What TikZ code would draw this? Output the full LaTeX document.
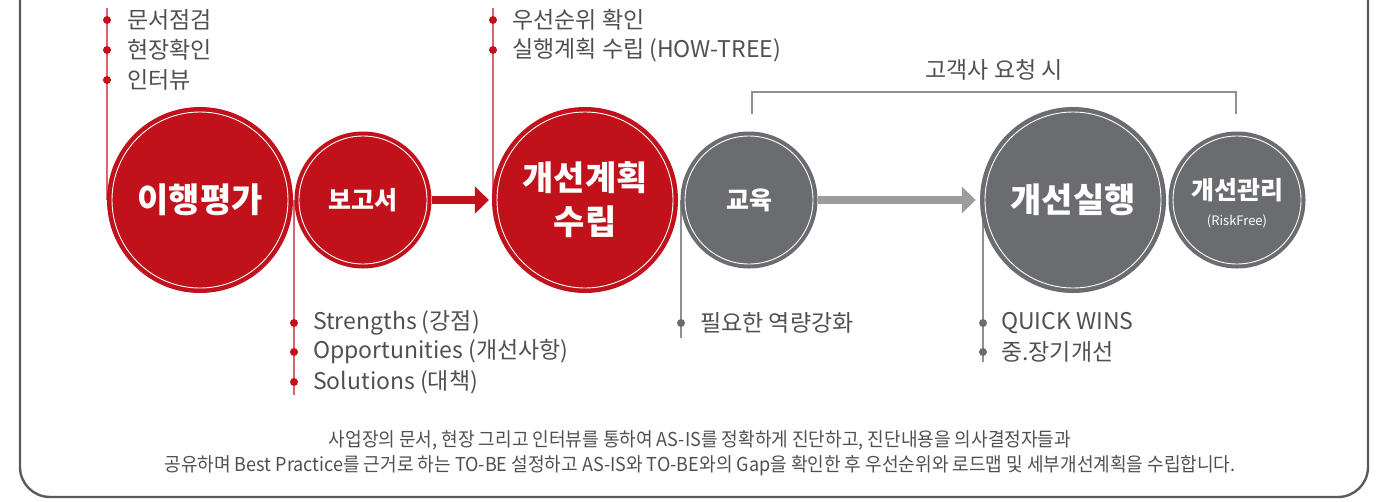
\documentclass[tikz,border=0pt]{standalone}
\usepackage{fontspec}
\setmainfont{Noto Sans CJK KR}
\newfontfamily\krc[FakeStretch=0.94]{Noto Sans CJK KR}
\usetikzlibrary{arrows.meta}
\definecolor{cred}{HTML}{C1121C}
\definecolor{cgray}{HTML}{6B6C70}
\definecolor{agray}{HTML}{9C9C9E}
\definecolor{tgray}{HTML}{505050}
\definecolor{lred}{HTML}{D8656E}
\definecolor{lgray}{HTML}{909090}
\definecolor{fgray}{HTML}{5A5A5A}
\tikzset{
  bigc/.style={circle, inner sep=0pt, minimum size=186pt, text=white, align=center,
     font=\fontsize{34}{44}\selectfont\bfseries},
  smallc/.style={circle, inner sep=0pt, minimum size=137pt, text=white, align=center,
     font=\fontsize{25}{29}\selectfont\bfseries},
  ring/.style={white, line width=0.9pt},
  item/.style={anchor=west, text=tgray, inner sep=0pt, font=\fontsize{23}{27}\selectfont},
  rdot/.style={circle, fill=cred, inner sep=0pt, minimum size=8pt},
  gdot/.style={circle, fill=cgray, inner sep=0pt, minimum size=8pt},
  rline/.style={lred, line width=1.6pt},
  gline/.style={lgray, line width=1.6pt},
  note/.style={text=tgray, inner sep=0pt, font=\krc\fontsize{19.2}{22}\selectfont},
}
\begin{document}
\begin{tikzpicture}[x=1pt,y=-1pt]
\useasboundingbox (0,0) rectangle (1388,501);
% frame
\draw[fgray, line width=2.4pt, rounded corners=30pt] (20,-40) -- (20,497) -- (1368,497) -- (1368,-40);

% coordinates for line ends
\coordinate (t1) at (107,8);
\coordinate (t2) at (493,8);
\coordinate (b1) at (294,395);
\coordinate (b2) at (681,338);
\coordinate (b3) at (983,362);

% vertical lines (behind circles)
\draw[rline] (t1) -- (107,200);
\draw[rline] (t2) -- (493,200);
\draw[rline] (294,200) -- (b1);
\draw[gline] (681,200) -- (b2);
\draw[gline] (983,200) -- (b3);

% circles
\node[bigc, fill=cred] (eval) at (200,200) {이행평가};
\node[smallc, fill=cred] (report) at (363,200) {보고서};
\node[bigc, fill=cred] (plan) at (585,200) {개선계획\\수립};
\node[smallc, fill=cgray] (edu) at (749,200) {교육};
\node[bigc, fill=cgray] (exec) at (1073,200) {개선실행};
\node[smallc, fill=cgray] (mgmt) at (1237,200) {};
\node[text=white, align=center, inner sep=0pt, font=\fontsize{25}{29}\selectfont\bfseries] (mgmtlabel) at (1237,203)
  {개선관리\\[-3pt]{\fontsize{13}{15}\selectfont\mdseries (RiskFree)}};

\draw[ring] (eval.center) circle[radius=88pt];
\draw[ring] (report.center) circle[radius=64pt];
\draw[ring] (plan.center) circle[radius=88pt];
\draw[ring] (edu.center) circle[radius=64pt];
\draw[ring] (exec.center) circle[radius=88pt];
\draw[ring] (mgmt.center) circle[radius=64pt];

% arrows
\draw[cred, line width=8pt, -{Triangle[length=14pt,width=27pt]}, shorten >=3pt] (report.east) -- (plan.west);
\draw[agray, line width=8pt, -{Triangle[length=14pt,width=26pt]}, shorten >=4pt] (edu.east) -- (exec.west);

% bracket
\coordinate (bl) at (752,114);
\coordinate (br) at (1236,114);
\draw[lgray, line width=1.4pt] (bl) -- (752,92) -- (1236,92) -- (br);
\node[item, anchor=center] (req) at (994,70) {고객사 요청 시};

% top-left list
\node[rdot] (d1) at (107,20) {};
\node[rdot] (d2) at (107,50) {};
\node[rdot] (d3) at (107,80) {};
\node[item] (l1) at (127,20) {문서점검};
\node[item] (l2) at (127,50) {현장확인};
\node[item] (l3) at (127,80) {인터뷰};

% top-middle list
\node[rdot] (d4) at (493,20) {};
\node[rdot] (d5) at (493,50) {};
\node[item] (l4) at (512,20) {우선순위 확인};
\node[item] (l5) at (512,50) {실행계획 수립 (HOW-TREE)};

% bottom lists
\node[rdot] (d6) at (294,323) {};
\node[rdot] (d7) at (294,352) {};
\node[rdot] (d8) at (294,382) {};
\node[item] (l6) at (313,323) {Strengths (강점)};
\node[item] (l7) at (313,352) {Opportunities (개선사항)};
\node[item] (l8) at (313,382) {Solutions (대책)};

\node[gdot] (d9) at (681,323) {};
\node[item] (l9) at (700,323) {필요한 역량강화};

\node[gdot] (d10) at (983,323) {};
\node[gdot] (d11) at (983,352) {};
\node[item] (l10) at (1001,323) {QUICK WINS};
\node[item] (l11) at (1001,352) {중.장기개선};

% description
\node[note] (n1) at (700,440) {사업장의 문서, 현장 그리고 인터뷰를 통하여 AS-IS를 정확하게 진단하고, 진단내용을 의사결정자들과};
\node[note] (n2) at (700,466) {공유하며 Best Practice를 근거로 하는 TO-BE 설정하고 AS-IS와 TO-BE와의 Gap을 확인한 후 우선순위와 로드맵 및 세부개선계획을 수립합니다.};
\end{tikzpicture}
\end{document}
